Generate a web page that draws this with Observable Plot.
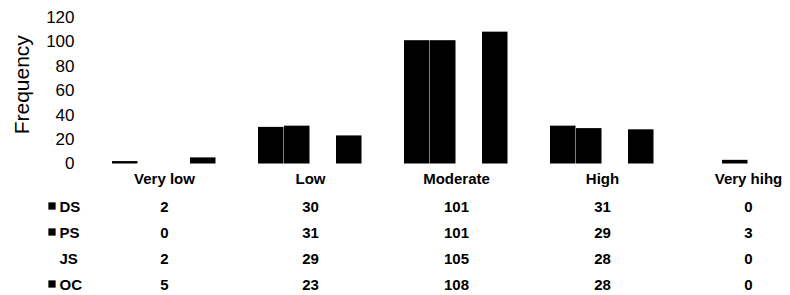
<!DOCTYPE html>
<html><head><meta charset="utf-8">
<script src="https://cdn.jsdelivr.net/npm/d3@7"></script>
<script src="https://cdn.jsdelivr.net/npm/@observablehq/plot@0.6"></script>
<style>
html, body { margin:0; padding:0; background:#fff; overflow:hidden; }
#chart svg { display:block; }
</style></head><body><div id="chart"></div>
<script>
const categories = ["Very low", "Low", "Moderate", "High", "Very hihg"];
const seriesNames = ["DS", "PS", "JS", "OC"];
const DS = [2, 30, 101, 31, 0];
const PS = [0, 31, 101, 29, 3];
const JS = [2, 29, 105, 28, 0];
const OC = [5, 23, 108, 28, 0];
const yTicks = [0, 20, 40, 60, 80, 100, 120];
const yLabel = "Frequency";

const valuesBySeries = {DS, PS, JS, OC};
const rows = seriesNames.flatMap(s => categories.map((c, i) => ({series: s, category: c, value: valuesBySeries[s][i]})));

const font = '"Liberation Sans", Arial, Helvetica, sans-serif';
const bandOpts = {type: "band", domain: categories, paddingInner: 0.272, paddingOuter: 0.136};
const colorOpts = {domain: seriesNames, range: ["black", "black", "white", "black"]};
const W = 790, ML = 90, MR = -33;

const chart = Plot.plot({
  width: W, height: 192, marginLeft: ML, marginRight: MR, marginTop: 17, marginBottom: 28.5,
  style: {fontFamily: font, background: "white"},
  fx: {...bandOpts, label: null},
  x: {domain: seriesNames, padding: 0, axis: null},
  y: {domain: [0, 120], axis: null},
  color: colorOpts,
  marks: [
    Plot.barY(rows, {fx: "category", x: "series", y: "value", fill: "series", insetRight: 0.5}),
    Plot.axisY({ticks: yTicks, tickSize: 0, tickPadding: 37, fontSize: 17, label: null}),
    Plot.text([yLabel], {fx: () => categories[0], text: d => d, frameAnchor: "left", rotate: -90, textAnchor: "middle", lineAnchor: "top", fontSize: 21, dx: -97, dy: -6}),
    Plot.axisFx({anchor: "bottom", tickSize: 0, tickPadding: 9.5, fontSize: 15, fontWeight: "bold", label: null})
  ]
});

const table = Plot.plot({
  width: W, height: 103, marginLeft: ML, marginRight: MR, marginTop: 0, marginBottom: -4,
  style: {fontFamily: font, background: "white"},
  x: {...bandOpts, axis: null},
  y: {type: "band", domain: seriesNames, padding: 0, axis: null},
  color: colorOpts,
  marks: [
    Plot.text(rows, {x: "category", y: "series", text: "value", fontSize: 15, fontWeight: "bold"}),
    Plot.axisY({tickSize: 0, tickPadding: 31, textAnchor: "start", fontSize: 15, fontWeight: "bold", label: null}),
    Plot.dot(seriesNames, {y: d => d, frameAnchor: "left", dx: -38.5, dy: -1.5, symbol: "square", r: 4.1, fill: d => d, stroke: null})
  ]
});

document.getElementById("chart").append(chart, table);
</script></body></html>
